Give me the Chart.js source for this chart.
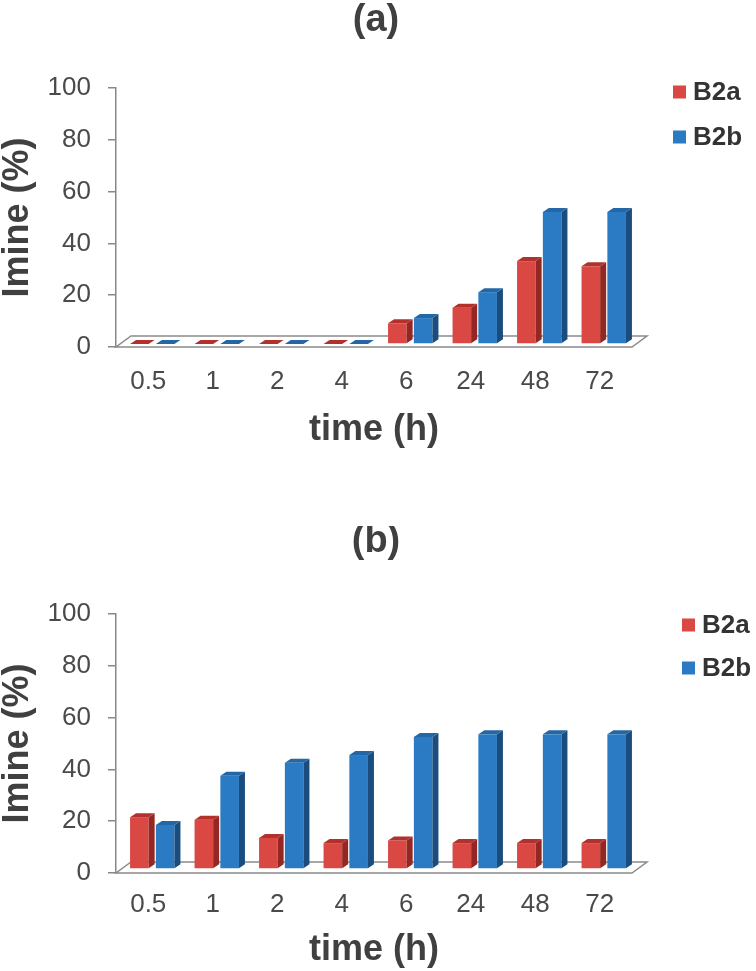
<!DOCTYPE html>
<html>
<head>
<meta charset="utf-8">
<script src="https://cdn.jsdelivr.net/npm/chart.js@4.4.0/dist/chart.umd.min.js"></script>
<style>
  body { margin: 0; background: #fff; width: 756px; height: 971px; position: relative; overflow: hidden; }
  canvas { position: absolute; left: 0; }
  #chartA { top: 0; }
  #chartB { top: 526px; }
</style>
</head>
<body>
<canvas id="chartA" width="756" height="460"></canvas>
<canvas id="chartB" width="756" height="445"></canvas>
<script>
// data
const timeLabels = ['0.5', '1', '2', '4', '6', '24', '48', '72'];
const seriesNames = ['B2a', 'B2b'];
const b2aPanelA = [0, 0, 0, 0, 8, 14, 32, 30];
const b2bPanelA = [0, 0, 0, 0, 10, 20, 51, 51];
const b2aPanelB = [20, 19, 12, 10, 11, 10, 10, 10];
const b2bPanelB = [17, 36, 41, 44, 51, 52, 52, 52];
const yTickValues = [0, 20, 40, 60, 80, 100];

const frontColors = ['#DA4843', '#2A7BC3'];
const topColors = ['#B3312C', '#2367A7'];
const sideColors = ['#952722', '#1A4C7D'];

const FONT = "'Liberation Sans', Arial, sans-serif";
const TEXT = '#404040';
Chart.defaults.font.family = FONT;

// floor depth and bar depth for the fake 3D look
const FLOOR_DX = 15, FLOOR_DY = 11;
const BAR_DX = 6, BAR_DY = 4;

const bar3d = {
  id: 'bar3d',
  beforeDatasetsDraw(chart) {
    const ctx = chart.ctx;
    const xs = chart.scales.x, ys = chart.scales.y;
    const y0 = ys.getPixelForValue(0);
    ctx.save();
    ctx.beginPath();
    ctx.moveTo(xs.left, y0);
    ctx.lineTo(xs.right, y0);
    ctx.lineTo(xs.right + FLOOR_DX, y0 - FLOOR_DY);
    ctx.lineTo(xs.left + FLOOR_DX, y0 - FLOOR_DY);
    ctx.closePath();
    ctx.fillStyle = '#fff';
    ctx.fill();
    ctx.strokeStyle = '#8a8a8a';
    ctx.lineWidth = 1.5;
    ctx.stroke();
    ctx.restore();
  },
  beforeDatasetDraw() {
    return false;
  },
  afterDatasetsDraw(chart, args, opts) {
    const ctx = chart.ctx;
    const metas = chart.data.datasets.map((d, i) => chart.getDatasetMeta(i));
    const n = chart.data.labels.length;
    ctx.save();
    for (let k = 0; k < n; k++) {
      for (let s = 0; s < metas.length; s++) {
        const el = metas[s].data[k];
        const p = el.getProps(['x', 'y', 'base', 'width'], true);
        const l = p.x - p.width / 2 + opts.shiftX;
        const r = p.x + p.width / 2 + opts.shiftX;
        const t = p.y + opts.shiftY;
        const b = p.base + opts.shiftY;
        ctx.fillStyle = frontColors[s];
        ctx.fillRect(l, t, r - l, b - t);
        ctx.fillStyle = sideColors[s];
        ctx.beginPath();
        ctx.moveTo(r, b);
        ctx.lineTo(r, t);
        ctx.lineTo(r + BAR_DX, t - BAR_DY);
        ctx.lineTo(r + BAR_DX, b - BAR_DY);
        ctx.closePath();
        ctx.fill();
        ctx.fillStyle = topColors[s];
        ctx.beginPath();
        ctx.moveTo(l, t);
        ctx.lineTo(r, t);
        ctx.lineTo(r + BAR_DX, t - BAR_DY);
        ctx.lineTo(l + BAR_DX, t - BAR_DY);
        ctx.closePath();
        ctx.fill();
      }
    }
    ctx.restore();
  },
  afterDraw(chart, args, opts) {
    const ctx = chart.ctx;
    const xs = chart.scales.x;
    ctx.save();
    // panel label, centred over the plot
    ctx.font = 'bold 38px ' + FONT;
    ctx.fillStyle = TEXT;
    ctx.textAlign = 'center';
    ctx.textBaseline = 'middle';
    ctx.fillText(opts.title, (xs.left + xs.right) / 2 + 2, opts.titleY);
    // legend
    ctx.textAlign = 'left';
    ctx.font = 'bold 26px ' + FONT;
    chart.data.datasets.forEach((ds, i) => {
      const cy = opts.legendY + i * opts.legendGap;
      ctx.fillStyle = frontColors[i];
      ctx.fillRect(opts.legendX, cy - 6.5, 13, 13);
      ctx.fillStyle = '#333';
      ctx.fillText(ds.label, opts.legendX + 20, cy + 1);
    });
    ctx.restore();
  }
};

function makeChart(id, redData, blueData, p) {
  return new Chart(document.getElementById(id), {
    type: 'bar',
    data: {
      labels: timeLabels,
      datasets: [
        { label: seriesNames[0], data: redData, backgroundColor: frontColors[0] },
        { label: seriesNames[1], data: blueData, backgroundColor: frontColors[1] }
      ]
    },
    options: {
      responsive: false,
      animation: false,
      devicePixelRatio: 1,
      categoryPercentage: 0.8,
      barPercentage: 0.72,
      layout: { padding: { left: 0, right: 124, top: 88, bottom: 0 } },
      plugins: {
        legend: { display: false },
        tooltip: { enabled: false },
        title: { display: false },
        bar3d: p
      },
      scales: {
        x: {
          grid: { display: false, drawTicks: false },
          border: { display: false },
          ticks: { color: '#4a4a4a', font: { size: 26 }, padding: p.xTickPad, maxRotation: 0, autoSkip: false },
          title: {
            display: true,
            text: 'time (h)',
            color: TEXT,
            font: { size: 36, weight: 'bold', lineHeight: 1 },
            padding: { top: 0, bottom: p.xTitleBottom }
          },
          afterFit(s) { s.height = p.height - 347; }
        },
        y: {
          min: yTickValues[0],
          max: yTickValues[yTickValues.length - 1],
          ticks: { stepSize: yTickValues[1] - yTickValues[0], color: '#4a4a4a', font: { size: 26 }, padding: 17 },
          grid: { drawOnChartArea: false, drawTicks: true, tickLength: 8, color: '#888', lineWidth: 1.5 },
          border: { display: true, color: '#888', width: 1.5 },
          title: {
            display: true,
            text: 'Imine (%)',
            color: TEXT,
            font: { size: 36, weight: 'bold', lineHeight: 1 },
            padding: { top: 0, bottom: 0 }
          },
          afterFit(s) { s.width = 116; }
        }
      }
    },
    plugins: [bar3d]
  });
}

makeChart('chartA', b2aPanelA, b2bPanelA,
  { title: '(a)', titleY: 21, height: 460, shiftX: 4, shiftY: -3,
    legendX: 673, legendY: 92, legendGap: 45, xTickPad: 19, xTitleBottom: 12 });
makeChart('chartB', b2aPanelB, b2bPanelB,
  { title: '(b)', titleY: 16, height: 445, shiftX: 4, shiftY: -4,
    legendX: 682, legendY: 99, legendGap: 43, xTickPad: 16, xTitleBottom: 3 });
</script>
</body>
</html>
